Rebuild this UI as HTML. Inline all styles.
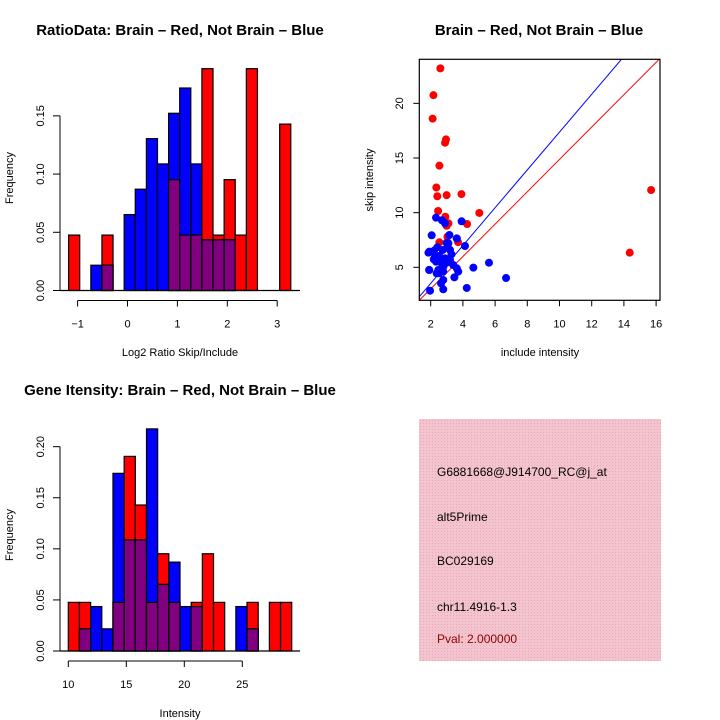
<!DOCTYPE html>
<html><head><meta charset="utf-8"><style>
body{margin:0;background:#fff}
svg{display:block;font-family:"Liberation Sans",Arial,sans-serif}
</style></head><body>
<svg id="c" width="720" height="720" viewBox="0 0 720 720">
<defs>
<pattern id="hatch" width="3" height="3" patternUnits="userSpaceOnUse">
<rect width="3" height="3" fill="#f3c4cd"/><rect width="1" height="1" fill="#e8a8b8"/>
</pattern>
</defs>
<text x="180" y="35" font-size="15" font-weight="bold" text-anchor="middle">RatioData: Brain – Red, Not Brain – Blue</text>
<text x="539" y="35" font-size="15" font-weight="bold" text-anchor="middle">Brain – Red, Not Brain – Blue</text>
<text x="180" y="395" font-size="15" font-weight="bold" text-anchor="middle">Gene Itensity: Brain – Red, Not Brain – Blue</text>
<text x="180" y="356" font-size="11" text-anchor="middle">Log2 Ratio Skip/Include</text>
<text transform="translate(13,178) rotate(-90)" font-size="11" text-anchor="middle">Frequency</text>
<text x="180" y="717" font-size="11" text-anchor="middle">Intensity</text>
<text transform="translate(13,535) rotate(-90)" font-size="11" text-anchor="middle">Frequency</text>
<text x="540" y="356" font-size="11" text-anchor="middle">include intensity</text>
<text transform="translate(373,180) rotate(-90)" font-size="11" text-anchor="middle">skip intensity</text>
<g>
<rect x="419" y="419" width="242" height="242" fill="url(#hatch)"/>
<text x="437" y="476" font-size="12">G6881668@J914700_RC@j_at</text>
<text x="437" y="521" font-size="12">alt5Prime</text>
<text x="437" y="565" font-size="12">BC029169</text>
<text x="437" y="611" font-size="12">chr11.4916-1.3</text>
<text x="437" y="643" font-size="12" fill="#8b0000">Pval: 2.000000</text>
</g>
<g id="g1"></g>
<g id="g2"></g>
<g id="g3"></g>
</svg>
<script>
// Ratio histogram data
const ratioBinStart = -1.18;
const ratioBinWidth = 0.2226;
const ratioRed  = [0.0476,0,0,0.0476,0,0,0,0,0,0.0952,0.0476,0.0476,0.1905,0.0476,0.0952,0.0476,0.1905,0,0,0.1429];
const ratioBlue = [0,0,0.0217,0.0217,0,0.0652,0.087,0.1304,0.1087,0.1522,0.1739,0.1087,0.0435,0.0435,0.0435,0,0,0,0,0];
const ratioXTicks = [-1,0,1,2,3];
const ratioYTicks = [0,0.05,0.10,0.15];
const ratioYLabels = ["0.00","0.05","0.10","0.15"];
// Intensity histogram data
const intBinStart = 10;
const intBinWidth = 0.963;
const intRed  = [0.0476,0.0476,0,0,0.0476,0.1905,0.1429,0.0476,0.0952,0.0476,0,0.0476,0.0952,0.0476,0,0,0.0476,0,0.0476,0.0476];
const intBlue = [0,0.0217,0.0435,0.0217,0.1739,0.1087,0.1087,0.2174,0.0652,0.087,0.0435,0.0435,0,0,0,0.0435,0.0217,0,0,0];
const intXTicks = [10,15,20,25];
const intYTicks = [0,0.05,0.10,0.15,0.20];
const intYLabels = ["0.00","0.05","0.10","0.15","0.20"];
// Scatter data
const redX = [2.60,2.17,2.12,2.95,2.89,2.54,2.35,2.41,2.99,3.91,2.46,5.02,2.91,3.10,4.26,2.99,3.04,2.54,3.70,15.69,14.36];
const redY = [23.2,20.75,18.6,16.7,16.4,14.3,12.3,11.5,11.6,11.7,10.15,9.97,9.63,9.02,8.96,8.8,7.8,7.29,7.3,12.07,6.34];
const blueX = [2.33,2.70,2.89,3.92,2.06,3.16,3.62,2.99,3.03,4.13,1.91,2.21,2.74,2.53,3.29,2.33,2.68,2.99,3.40,3.62,1.91,2.47,2.78,3.71,4.65,5.62,6.68,4.24,3.47,2.64,2.78,1.96,2.78,2.52,2.19,2.89,3.20,1.86,1.90,2.41,3.10,3.62,2.27,2.79,2.37,3.20];
const blueY = [9.54,9.30,9.02,9.21,7.93,7.96,7.62,7.25,6.83,6.95,6.43,6.52,6.58,6.03,6.19,5.52,5.37,5.42,5.21,4.91,4.75,4.75,4.61,4.61,4.97,5.42,4.02,3.11,4.08,3.54,2.99,2.86,3.84,4.45,5.73,5.82,5.67,6.34,4.76,6.83,7.2,7.65,5.98,5.06,4.45,6.59];
const redLine = [0.07,1.48];   // intercept, slope
const blueLine = [0.07,1.73];
const scXTicks = [2,4,6,8,10,12,14,16];
const scYTicks = [5,10,15,20];

const NS="http://www.w3.org/2000/svg";
function mk(parent,tag,attrs){const e=document.createElementNS(NS,tag);for(const k in attrs)e.setAttribute(k,attrs[k]);parent.appendChild(e);return e;}

function hist(g,o){
  const sx=v=>o.x0+(v-o.v0)*o.kx, sy=v=>o.y0-v*o.ky;
  for(let i=0;i<o.red.length;i++){
    const a=o.binStart+i*o.binWidth, b=a+o.binWidth;
    const x=sx(a), w=sx(b)-sx(a);
    const r=o.red[i], bl=o.blue[i], m=Math.min(r,bl);
    if(r>0){const e=mk(g,'rect',{x:x,y:sy(r),width:w,height:sy(0)-sy(r),fill:'#ff0000',stroke:'#000','stroke-width':1.2});
      
      }
    if(bl>0){const e=mk(g,'rect',{x:x,y:sy(bl),width:w,height:sy(0)-sy(bl),fill:'#0000ff',stroke:'#000','stroke-width':1.2});
      
      }
    if(m>0){const e=mk(g,'rect',{x:x,y:sy(m),width:w,height:sy(0)-sy(m),fill:'#800080',stroke:'#000','stroke-width':1.2});
      
      }
  }
  mk(g,'line',{x1:60,x2:300,y1:o.y0,y2:o.y0,stroke:'#000','stroke-width':1.2});
  const yt=o.yTicks;
  mk(g,'line',{x1:60,x2:60,y1:sy(yt[0]),y2:sy(yt[yt.length-1]),stroke:'#000','stroke-width':1});
  yt.forEach((v,i)=>{mk(g,'line',{x1:53,x2:60,y1:sy(v),y2:sy(v),stroke:'#000'});
    const t=mk(g,'text',{transform:`translate(44,${sy(v)}) rotate(-90)`,'font-size':11,'text-anchor':'middle'});t.textContent=o.yLabels[i];
    
    });
  const xt=o.xTicks, ay=o.y0+10;
  mk(g,'line',{x1:sx(xt[0]),x2:sx(xt[xt.length-1]),y1:ay,y2:ay,stroke:'#000'});
  xt.forEach(v=>{mk(g,'line',{x1:sx(v),x2:sx(v),y1:ay,y2:ay+6,stroke:'#000'});
    const t=mk(g,'text',{x:sx(v),y:ay+27,'font-size':11,'text-anchor':'middle'});t.textContent=(v<0?'−'+(-v):String(v));
    
    });
}
hist(document.getElementById('g1'),{x0:127.5,v0:0,kx:49.9,y0:290.5,ky:1164.4,binStart:ratioBinStart,binWidth:ratioBinWidth,red:ratioRed,blue:ratioBlue,xTicks:ratioXTicks,yTicks:ratioYTicks,yLabels:ratioYLabels});
hist(document.getElementById('g3'),{x0:68.3,v0:10,kx:11.6,y0:651,ky:1021.6,binStart:intBinStart,binWidth:intBinWidth,red:intRed,blue:intBlue,xTicks:intXTicks,yTicks:intYTicks,yLabels:intYLabels});

(function(){
  const g=document.getElementById('g2');
  const L=419.3,R=660,T=59.3,B=300.3;
  const sx=v=>430.7+(v-2)*16.1, sy=v=>267.3-(v-5)*10.93;
  const cp=mk(g,'clipPath',{id:'scclip'});mk(cp,'rect',{x:L,y:T,width:R-L,height:B-T});
  [[blueLine,'#0000ff','blue-fit-line'],[redLine,'#ff0000','red-fit-line']].forEach(([ln,c,n])=>{
    const x1=0,x2=20;
    const e=mk(g,'line',{x1:sx(x1),y1:sy(ln[0]+ln[1]*x1),x2:sx(x2),y2:sy(ln[0]+ln[1]*x2),stroke:c,'stroke-width':1,'clip-path':'url(#scclip)'});
    
    
  });
  redX.forEach((v,i)=>{const e=mk(g,'circle',{cx:sx(v),cy:sy(redY[i]),r:4,fill:'#ff0000'});
    
    });
  blueX.forEach((v,i)=>{const e=mk(g,'circle',{cx:sx(v),cy:sy(blueY[i]),r:4,fill:'#0000ff'});
    
    });
  mk(g,'rect',{x:L,y:T,width:R-L,height:B-T,fill:'none',stroke:'#000','stroke-width':1.2});
  scXTicks.forEach(v=>{mk(g,'line',{x1:sx(v),x2:sx(v),y1:B,y2:B+6,stroke:'#000'});
    const t=mk(g,'text',{x:sx(v),y:B+27,'font-size':11,'text-anchor':'middle'});t.textContent=v;
    
    });
  scYTicks.forEach(v=>{mk(g,'line',{x1:L-6,x2:L,y1:sy(v),y2:sy(v),stroke:'#000'});
    const t=mk(g,'text',{transform:`translate(403,${sy(v)}) rotate(-90)`,'font-size':11,'text-anchor':'middle'});t.textContent=v;
    
    });
})();
</script>
</body></html>
